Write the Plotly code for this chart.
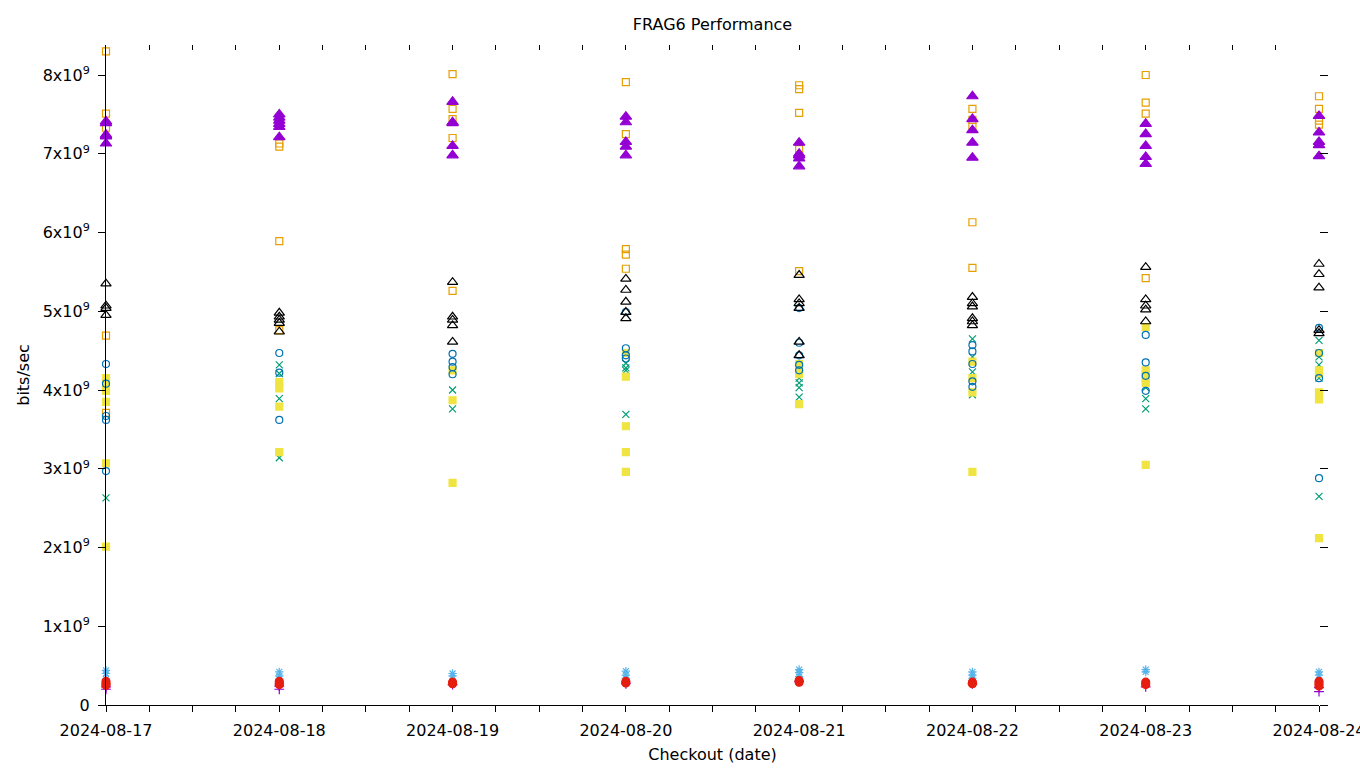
import plotly.graph_objects as go

dates = ["2024-08-17", "2024-08-18", "2024-08-19", "2024-08-20",
         "2024-08-21", "2024-08-22", "2024-08-23", "2024-08-24"]

# values in units of 1e9 bits/sec, one list per date
purple_plus = [[0.20, 0.23], [0.20, 0.24], [0.26], [0.27], [0.30], [0.27], [0.23], [0.17, 0.22]]
green_x = [[2.63], [4.32, 4.21, 3.89, 3.14], [4.00, 3.76], [4.34, 4.28, 3.69, 4.25],
           [4.15, 4.09, 4.03, 3.91], [4.65, 4.42, 4.23, 3.94], [4.03, 3.89, 3.76],
           [4.63, 4.42, 4.32, 4.15, 2.65]]
lightblue_star = [[0.44, 0.40, 0.33], [0.42, 0.37, 0.33], [0.40, 0.37], [0.43, 0.38, 0.34],
                  [0.45, 0.41, 0.36], [0.42, 0.38, 0.34], [0.45, 0.42], [0.42, 0.38, 0.31]]
orange_sq = [[8.30, 7.51, 7.33, 4.69, 3.71], [7.13, 7.09, 5.89, 4.76],
             [8.01, 7.57, 7.44, 7.20, 5.26], [7.91, 7.25, 5.79, 5.72, 5.54],
             [7.87, 7.82, 7.52, 7.06, 5.51], [7.57, 7.43, 7.34, 6.13, 5.55],
             [8.00, 7.65, 7.51, 5.42], [7.73, 7.57, 7.42, 7.37]]
yellow_sq = [[4.15, 4.08, 3.99, 3.85, 3.07, 2.01], [4.10, 4.02, 3.79, 3.21],
             [4.25, 3.87, 2.82], [4.47, 4.17, 3.54, 3.21, 2.96],
             [4.33, 4.25, 4.20, 3.82], [4.36, 4.15, 3.97, 2.96],
             [4.80, 4.25, 4.20, 4.15, 4.09, 3.05], [4.47, 4.25, 4.21, 3.97, 3.88, 2.12]]
blue_circ = [[4.33, 4.08, 3.67, 3.62, 2.97], [4.47, 4.22, 3.62], [4.46, 4.36, 4.29, 4.20],
             [4.99, 4.53, 4.44, 4.40], [5.04, 4.60, 4.44, 4.32, 4.25],
             [4.57, 4.49, 4.33, 4.11, 4.04], [4.70, 4.35, 4.18, 3.99],
             [4.79, 4.47, 4.15, 2.88]]
red_dot = [[0.30, 0.27, 0.25], [0.30, 0.27, 0.26], [0.29, 0.27], [0.30, 0.28],
           [0.31, 0.29], [0.29, 0.27], [0.29, 0.26], [0.30, 0.27, 0.24]]
black_tri = [[5.35, 5.07, 5.04, 4.95], [4.98, 4.93, 4.89, 4.85, 4.74],
             [5.37, 4.93, 4.89, 4.82, 4.61], [5.41, 5.27, 5.12, 4.99, 4.91],
             [5.46, 5.15, 5.10, 5.04, 4.61, 4.44], [5.18, 5.10, 5.06, 4.91, 4.87, 4.82],
             [5.56, 5.15, 5.07, 5.02, 4.87], [5.60, 5.47, 5.30, 4.76, 4.72]]
purple_tri = [[7.41, 7.39, 7.24, 7.22, 7.13], [7.50, 7.46, 7.42, 7.38, 7.34, 7.21],
              [7.66, 7.40, 7.39, 7.10, 6.98], [7.47, 7.40, 7.15, 7.09, 6.98],
              [7.14, 7.00, 6.98, 6.94, 6.84], [7.73, 7.44, 7.30, 7.14, 6.95],
              [7.38, 7.25, 7.10, 6.96, 6.87], [7.48, 7.27, 7.15, 7.11, 6.97]]

y_tick_vals = [0, 1, 2, 3, 4, 5, 6, 7, 8]
y_tick_text = ["0"] + [f"{v}x10<sup>9</sup>" for v in y_tick_vals[1:]]

series = [
    (purple_plus, "#9400D3", "cross-thin-open", 7),
    (green_x, "#009E73", "x-thin-open", 7),
    (lightblue_star, "#56B4E9", "asterisk-open", 7),
    (orange_sq, "#E69F00", "square-open", 7),
    (yellow_sq, "#F0E442", "square", 7),
    (blue_circ, "#0072B2", "circle-open", 7),
    (red_dot, "#E51E10", "circle", 8),
    (black_tri, "#000000", "triangle-up-open", 9),
    (purple_tri, "#9400D3", "triangle-up", 10),
]

fig = go.Figure()
for vals, color, symbol, size in series:
    xs, ys = [], []
    for d, lst in zip(dates, vals):
        for v in lst:
            xs.append(d)
            ys.append(v * 1e9)
    fig.add_trace(go.Scatter(
        x=xs, y=ys, mode="markers", cliponaxis=False, showlegend=False,
        marker=dict(symbol=symbol, size=size, color=color,
                    line=dict(color=color, width=1.2)),
    ))

# invisible trace for mirrored tick axes
fig.add_trace(go.Scatter(x=[dates[0]], y=[0], xaxis="x2", yaxis="y2", mode="markers",
                         marker=dict(opacity=0), showlegend=False, hoverinfo="skip"))

ymax = 8.381e9
xr = ["2024-08-17", "2024-08-24"]
font = "DejaVu Sans, sans-serif"

fig.update_layout(
    width=1360, height=768,
    paper_bgcolor="white", plot_bgcolor="white",
    margin=dict(l=106, r=41, t=45, b=63, autoexpand=False),
    title=dict(text="FRAG6 Performance", x=0.5, xref="paper", xanchor="center",
               y=0.968, yanchor="middle",
               font=dict(family=font, size=16, color="black")),
    font=dict(family=font, size=16, color="black"),
    xaxis=dict(
        type="date", range=xr, tickvals=dates, ticktext=dates, automargin=False,
        showgrid=False, zeroline=False, showline=True, linecolor="black", linewidth=1,
        ticks="outside", ticklen=6, tickcolor="black", tickwidth=1,
        ticklabeloverflow="allow", ticklabelstandoff=5,
        minor=dict(dtick=6 * 3600 * 1000, ticks="outside", ticklen=6, tickcolor="black",
                   showgrid=False),
        title=dict(text="Checkout (date)", standoff=9, font=dict(size=16)),
        tickfont=dict(size=16),
    ),
    yaxis=dict(
        range=[0, ymax], tickvals=[v * 1e9 for v in y_tick_vals], ticktext=y_tick_text,
        automargin=False, ticklabelstandoff=5,
        showgrid=False, zeroline=False, showline=True, linecolor="black", linewidth=1,
        ticks="outside", ticklen=7, tickcolor="black",
        title=dict(text="bits/sec", standoff=9, font=dict(size=16)),
        tickfont=dict(size=16),
    ),
    xaxis2=dict(
        type="date", range=xr, overlaying="x", side="top", showticklabels=False,
        automargin=False,
        showgrid=False, zeroline=False, showline=False,
        tickvals=dates, ticks="inside", ticklen=5, tickcolor="black",
        minor=dict(dtick=6 * 3600 * 1000, ticks="inside", ticklen=5, tickcolor="black",
                   showgrid=False),
    ),
    yaxis2=dict(
        range=[0, ymax], overlaying="y", side="right", showticklabels=False,
        automargin=False,
        showgrid=False, zeroline=False, showline=False,
        tickvals=[v * 1e9 for v in y_tick_vals], ticks="outside", ticklen=8, tickcolor="black",
    ),
)

fig.write_html("out.html", config={"displayModeBar": False},
               post_script="document.body.style.margin='0';document.body.style.overflow='hidden';")
